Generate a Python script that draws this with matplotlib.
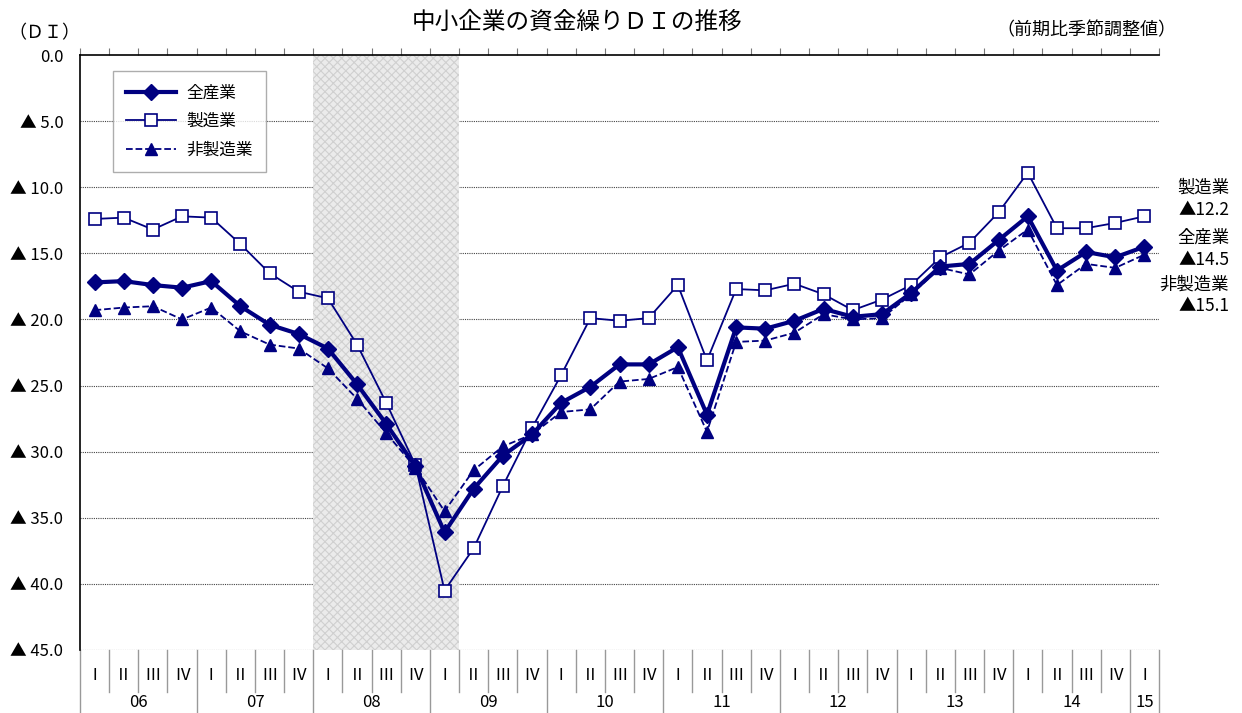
import numpy as np
import matplotlib.pyplot as plt
import matplotlib.transforms as mtransforms

plt.rcParams['font.family'] = ['Noto Sans CJK JP', 'DejaVu Sans']

# data: 2006 Q1 .. 2015 Q1 (DI, shown as positive = "▲" values)
years = ['06', '07', '08', '09', '10', '11', '12', '13', '14', '15']
quarters = ['Ⅰ', 'Ⅱ', 'Ⅲ', 'Ⅳ']
all_ind = [17.2, 17.1, 17.4, 17.6, 17.1, 19.0, 20.4, 21.1,
           22.2, 24.9, 27.9, 31.1, 36.1, 32.8, 30.3, 28.7,
           26.3, 25.1, 23.4, 23.4, 22.1, 27.2, 20.6, 20.7,
           20.1, 19.2, 19.8, 19.6, 18.0, 16.0, 15.8, 14.0,
           12.2, 16.3, 14.9, 15.3, 14.5]
manuf = [12.4, 12.3, 13.2, 12.2, 12.3, 14.3, 16.5, 17.9,
         18.4, 21.9, 26.3, 31.0, 40.5, 37.3, 32.6, 28.2,
         24.2, 19.9, 20.1, 19.9, 17.4, 23.1, 17.7, 17.8,
         17.3, 18.1, 19.3, 18.5, 17.4, 15.3, 14.2, 11.9,
         8.9, 13.1, 13.1, 12.7, 12.2]
non_manuf = [19.3, 19.1, 19.0, 20.0, 19.1, 20.9, 21.9, 22.2,
             23.7, 26.0, 28.6, 31.2, 34.5, 31.4, 29.6, 28.7,
             27.0, 26.8, 24.7, 24.5, 23.6, 28.5, 21.7, 21.6,
             21.0, 19.6, 20.0, 19.9, 18.1, 16.1, 16.6, 14.8,
             13.2, 17.4, 15.8, 16.1, 15.1]
shade_from, shade_to = 8, 12   # 2008 Q1 .. 2009 Q1 (index)

navy = '#000080'
n = len(all_ind)
x = np.arange(n)

fig = plt.figure(figsize=(12.42, 7.13), dpi=100)
ax = fig.add_axes([80 / 1242, 1 - 650 / 713, 1079 / 1242, 595 / 713])

ax.set_xlim(-0.5, n - 0.5)
ax.set_ylim(45, 0)

# shaded period
plt.rcParams['hatch.linewidth'] = 0.8
ax.axvspan(shade_from - 0.5, shade_to + 0.5, facecolor='#ebebeb',
           edgecolor='#d0d0d0', hatch='xxxx', lw=0, zorder=1)

# grid
for v in range(5, 50, 5):
    ax.axhline(v, color='#444444', lw=0.8, ls=(0, (1, 1)), zorder=0.5)

ax.plot(x, all_ind, color=navy, lw=3, marker='D', ms=8.5, label='全産業', zorder=5)
ax.plot(x, manuf, color=navy, lw=1.3, marker='s', ms=9, mfc='white',
        mec=navy, mew=1.2, label='製造業', zorder=4)
ax.plot(x, non_manuf, color=navy, lw=1.3, ls='--', marker='^', ms=9,
        label='非製造業', zorder=3)

# axes / ticks
for s in ['right', 'bottom']:
    ax.spines[s].set_visible(False)
ax.spines['left'].set_linewidth(1.2)
ax.spines['top'].set_linewidth(1.2)
ax.xaxis.tick_top()
ax.set_xticks(np.arange(-0.5, n, 1.0))
ax.tick_params(axis='x', direction='out', length=5, color='#777777',
               labeltop=False, labelbottom=False)
yt = np.arange(0, 50, 5)
ax.set_yticks(yt)
ax.set_yticklabels(['0.0'] + ['▲ %.1f' % v for v in yt[1:]], fontsize=12)
ax.tick_params(axis='y', length=0, pad=12)

# category labels below the plot
tr = mtransforms.blended_transform_factory(ax.transData, ax.transAxes)
for i in range(n):
    ax.text(i, -0.043, quarters[i % 4], transform=tr, ha='center',
            va='center', fontsize=12)
for i in range(n + 1):
    edge = i - 0.5
    y_end = -0.11 if i % 4 == 0 or i == n else -0.07
    ax.plot([edge, edge], [0, y_end], transform=tr, color='#999999',
            lw=1, clip_on=False)
for k, yr in enumerate(years):
    start = 4 * k
    end = min(4 * k + 3, n - 1)
    ax.text((start + end) / 2, -0.088, yr, transform=tr, ha='center',
            va='center', fontsize=12)

leg = ax.legend(loc='upper left', bbox_to_anchor=(0.0306, 0.973),
                borderaxespad=0, fontsize=12, frameon=True, fancybox=False,
                edgecolor='#999999', handlelength=3.0, labelspacing=0.7,
                borderpad=0.8, handletextpad=0.6)
leg.get_frame().set_linewidth(1.0)
leg.set_zorder(10)

fig.text(577 / 1242, 1 - 22 / 713, '中小企業の資金繰りＤＩの推移', ha='center',
         va='center', fontsize=17)
fig.text(80 / 1242, 1 - 33 / 713, '（ＤＩ）', ha='right', va='center', fontsize=13)
fig.text(1176 / 1242, 1 - 30 / 713, '（前期比季節調整値）', ha='right',
         va='center', fontsize=13)

side = [('製造業', 188), ('▲12.2', 210), ('全産業', 238), ('▲14.5', 260),
        ('非製造業', 285), ('▲15.1', 306)]
for txt, py in side:
    fig.text(1229 / 1242, 1 - py / 713, txt, ha='right', va='center', fontsize=12.5)

fig.savefig('out.png', dpi=100)
